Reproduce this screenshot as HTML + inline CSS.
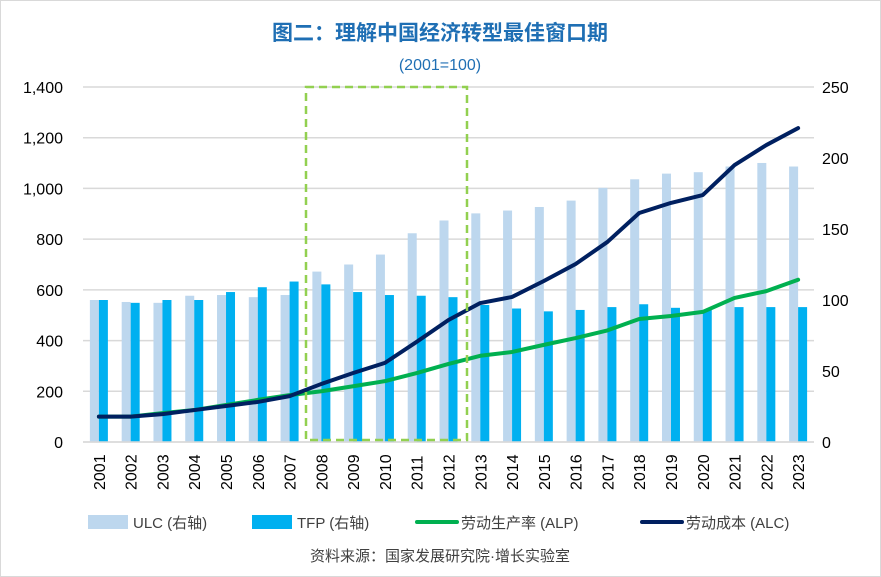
<!DOCTYPE html>
<html><head><meta charset="utf-8"><style>
body{margin:0;background:#fff;}
svg{display:block;font-family:"Liberation Sans","Noto Sans CJK SC",sans-serif;}
</style></head><body>
<svg id="c" width="881" height="577" viewBox="0 0 881 577">
<rect x="0.5" y="0.5" width="880" height="576" fill="#fff" stroke="#d9d9d9"/>
<text x="440" y="40" text-anchor="middle" font-size="21" font-weight="bold" fill="#1f6fb4">图二：理解中国经济转型最佳窗口期</text>
<text x="440" y="70" text-anchor="middle" font-size="16" fill="#1f6fb4">(2001=100)</text>
<g id="grid"></g><g id="bars"></g><g id="lines"></g><g id="axes"></g>
<rect x="306" y="87" width="161" height="353" fill="none" stroke="#92d050" stroke-width="2.5" stroke-dasharray="8,5"/>
<g font-size="15" fill="#404040">
<rect x="88" y="515" width="40" height="14" fill="#bdd7ee"/>
<text x="133" y="528">ULC (右轴)</text>
<rect x="252" y="515" width="40" height="14" fill="#00b0f0"/>
<text x="297" y="528">TFP (右轴)</text>
<line x1="417" y1="522" x2="457" y2="522" stroke="#00b050" stroke-width="4" stroke-linecap="round"/>
<text x="461" y="528">劳动生产率 (ALP)</text>
<line x1="642" y1="522" x2="682" y2="522" stroke="#002060" stroke-width="4" stroke-linecap="round"/>
<text x="686" y="528">劳动成本 (ALC)</text>
<text x="440" y="561" text-anchor="middle">资料来源：国家发展研究院·增长实验室</text>
</g>
</svg>
<script>
const years=["2001","2002","2003","2004","2005","2006","2007","2008","2009","2010","2011","2012","2013","2014","2015","2016","2017","2018","2019","2020","2021","2022","2023"];
const ulc=[100,98.6,98,103,103.5,102,103.5,120,125,132,147,156,161,163,165.5,170,179,185,189,190,194,196.5,194];
const tfp=[100,98,100,100,105.6,109,113,111,105.6,103.5,103,102,96.5,94,92,93,95,97,94.5,93,95,95,95];
const alp=[100,100,114,126,146,166,185,200,220,240,272,308,340,355,383,410,440,485,497,513,568,595,640];
const alc=[100,100,110,126,142,158,181,229,272,312,395,481,548,572,635,702,789,903,943,974,1092,1171,1238];
const leftTicks=[0,200,400,600,800,1000,1200,1400];
const rightTicks=[0,50,100,150,200,250];
const X0=83,X1=814,Y0=442,Y1=87;
const bw=(X1-X0)/years.length;
const cx=i=>X0+(i+0.5)*bw;
const yL=v=>Y0-(v/1400)*(Y0-Y1);
const yR=v=>Y0-(v/250)*(Y0-Y1);
const NS="http://www.w3.org/2000/svg";
function mk(t,a,p){const e=document.createElementNS(NS,t);for(const k in a)e.setAttribute(k,a[k]);p.appendChild(e);return e;}
const grid=document.getElementById('grid'),bars=document.getElementById('bars'),lines=document.getElementById('lines'),axes=document.getElementById('axes');
leftTicks.forEach(v=>{
 const l=mk('line',{x1:X0,x2:X1,y1:yL(v),y2:yL(v),stroke:'#d9d9d9','stroke-width':1.5},grid);
 
 
 const t=mk('text',{x:63,y:yL(v)+6,'text-anchor':'end','font-size':16,fill:'#000'},axes);
 t.textContent=v.toLocaleString('en-US');
 
 
});
rightTicks.forEach(v=>{
 const t=mk('text',{x:822,y:yR(v)+6,'font-size':16,fill:'#000'},axes);
 t.textContent=v;
 
 
});
years.forEach((y,i)=>{
 const a=mk('rect',{x:cx(i)-9,y:yR(ulc[i]),width:9,height:Y0-yR(ulc[i]),fill:'#bdd7ee'},bars);
 
 
 const b=mk('rect',{x:cx(i),y:yR(tfp[i]),width:9,height:Y0-yR(tfp[i]),fill:'#00b0f0'},bars);
 
 
 const t=mk('text',{transform:`translate(${cx(i)+6},490) rotate(-90)`,'font-size':16,fill:'#000'},axes);
 t.textContent=y;
 
 
});
const xl=mk('line',{x1:X0,x2:X1,y1:Y0,y2:Y0,stroke:'#d9d9d9','stroke-width':1.5},axes);


const p1=mk('polyline',{points:alp.map((v,i)=>cx(i)+','+yL(v)).join(' '),fill:'none',stroke:'#00b050','stroke-width':4,'stroke-linejoin':'round','stroke-linecap':'round'},lines);


const p2=mk('polyline',{points:alc.map((v,i)=>cx(i)+','+yL(v)).join(' '),fill:'none',stroke:'#002060','stroke-width':4,'stroke-linejoin':'round','stroke-linecap':'round'},lines);


</script>
</body></html>
